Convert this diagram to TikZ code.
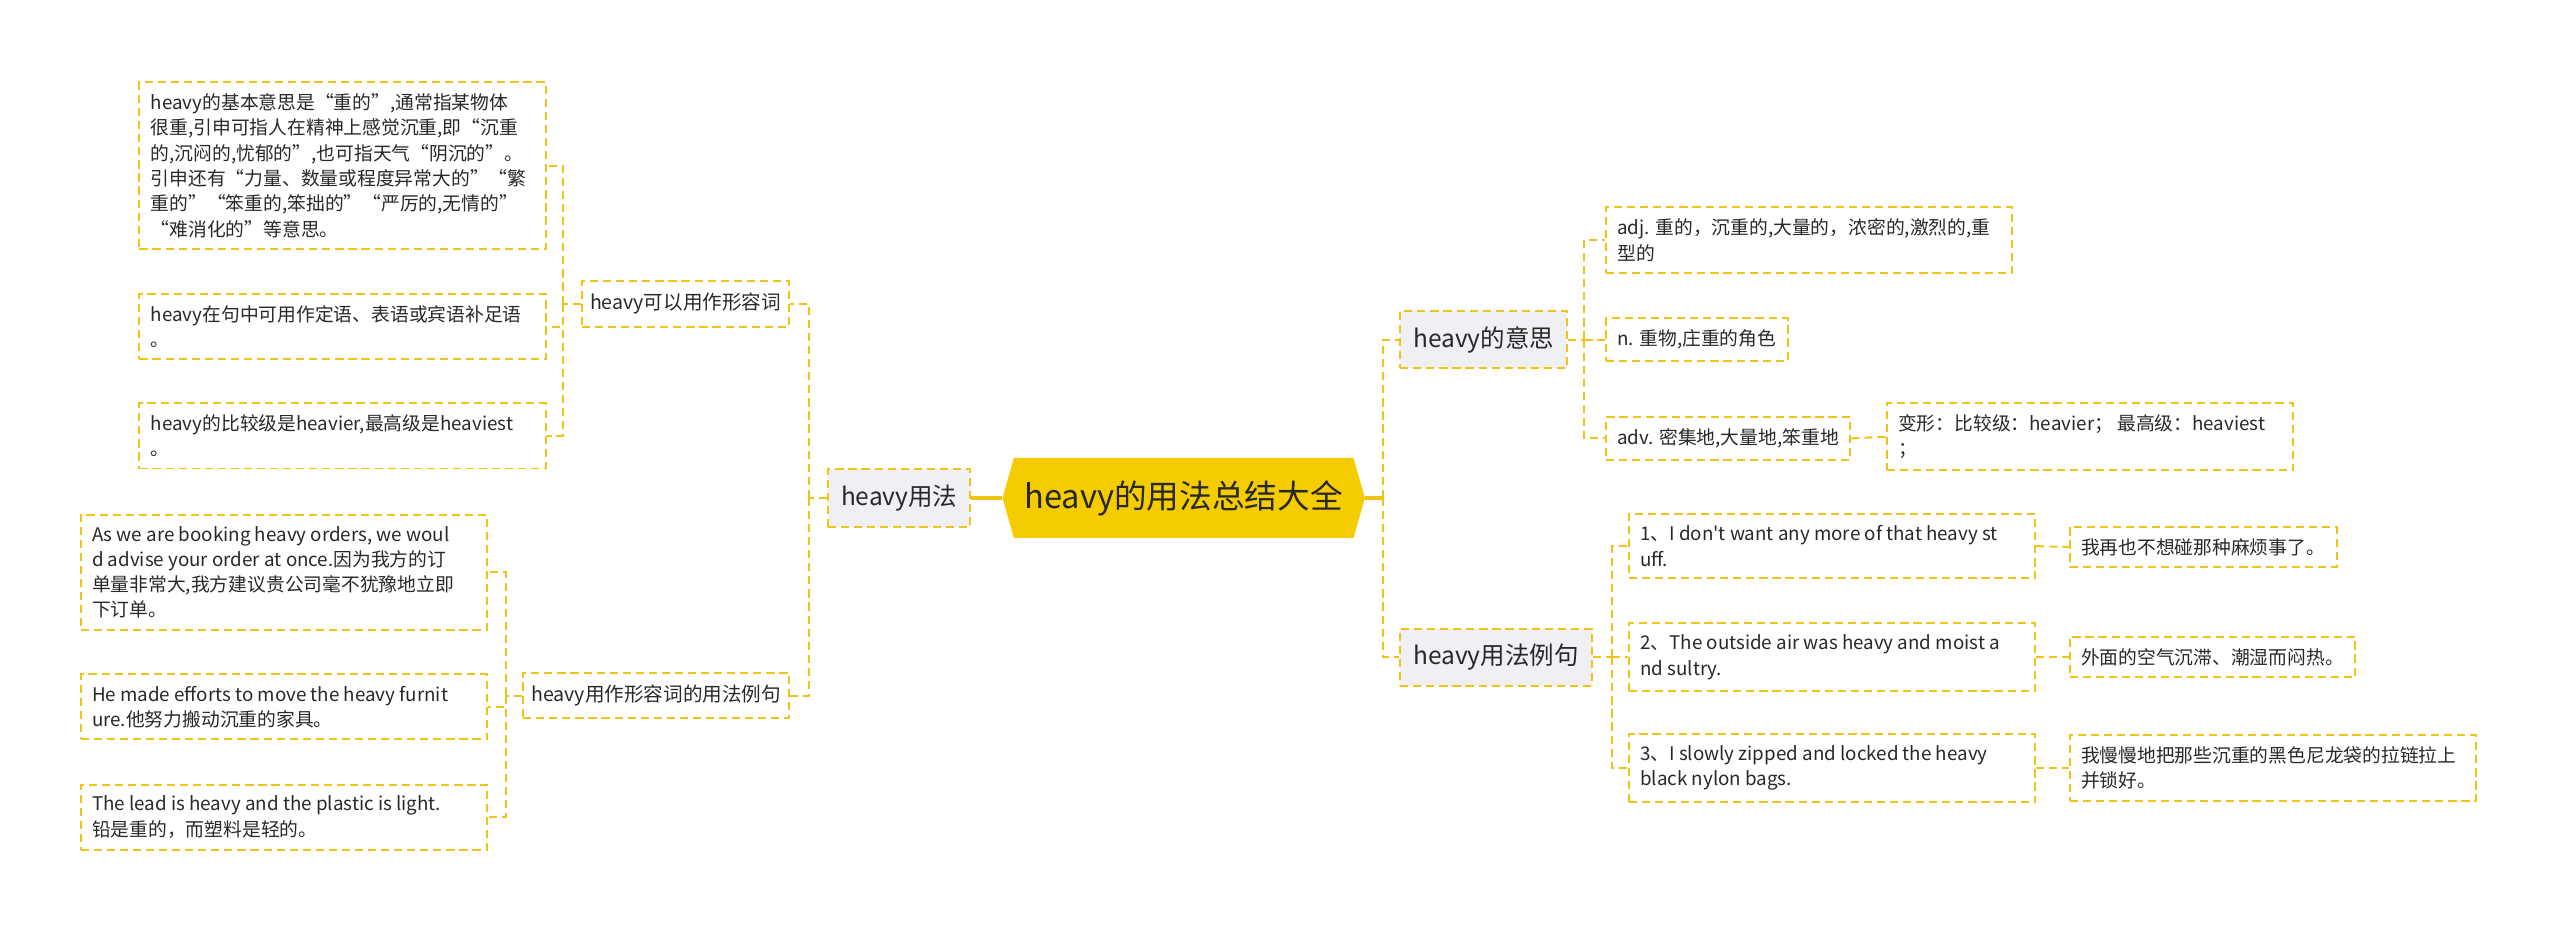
\documentclass[tikz,border=0pt]{standalone}
\usepackage{fontspec}
\setmainfont{Noto Sans CJK SC}[Ligatures=TeXOff]
\usetikzlibrary{shapes.symbols}
\definecolor{mmyellow}{RGB}{240,196,20}
\definecolor{mmroot}{RGB}{245,204,0}
\definecolor{mmgray}{RGB}{238,240,243}
\definecolor{mmtext}{RGB}{40,40,40}

\begin{document}
\begin{tikzpicture}[x=1pt,y=-1pt]
\tikzstyle{every node}=[text=mmtext]
\tikzstyle{root}=[signal, signal to=west and east, signal pointer angle=148, fill=mmroot, minimum width=222pt, minimum height=49pt, inner sep=0pt, font=\fontsize{20}{24}\selectfont]
\tikzstyle{box}=[draw=mmyellow, line width=1.2pt, dash pattern=on 5pt off 3pt, inner xsep=7pt, inner ysep=7pt, align=left]
\tikzstyle{topic}=[box, fill=mmgray, minimum height=35pt, inner xsep=8pt, font=\fontsize{15}{18}\selectfont]
\tikzstyle{subtopic}=[box, minimum height=28pt, inner xsep=5pt, font=\fontsize{12}{15}\selectfont]
\tikzstyle{leaf}=[box, font=\fontsize{11.5}{15.5}\selectfont]
\tikzstyle{wide}=[leaf, text width=235pt, align=flush left]
\tikzstyle{link}=[draw=mmyellow, line width=1.2pt, dash pattern=on 5pt off 3pt]
\tikzstyle{rootlink}=[draw=mmyellow, line width=2pt]

\useasboundingbox (0,0) rectangle (1568,573);

\node[root] (root) at (725,305) {heavy的用法总结大全};

\node[topic, anchor=east] (usage) at (595,305) {heavy用法};
\node[subtopic, anchor=east] (adjuse) at (484,186) {heavy可以用作形容词};
\node[subtopic, anchor=east] (exuse) at (484,426) {heavy用作形容词的用法例句};

\node[wide, anchor=east] (basic) at (335,101.5) {heavy的基本意思是“重的”,通常指某物体\\很重,引申可指人在精神上感觉沉重,即“沉重\\的,沉闷的,忧郁的”,也可指天气“阴沉的”。\\引申还有“力量、数量或程度异常大的”“繁\\重的”“笨重的,笨拙的”“严厉的,无情的”\\“难消化的”等意思。};
\node[wide, anchor=east] (position) at (335,200) {heavy在句中可用作定语、表语或宾语补足语\\。};
\node[wide, anchor=east] (compare) at (335,267) {heavy的比较级是heavier,最高级是heaviest\\。};
\node[wide, anchor=east] (orders) at (299,350.5) {As we are booking heavy orders, we woul\\d advise your order at once.因为我方的订\\单量非常大,我方建议贵公司毫不犹豫地立即\\下订单。};
\node[wide, anchor=east] (furniture) at (299,433) {He made efforts to move the heavy furnit\\ure.他努力搬动沉重的家具。};
\node[wide, anchor=east] (lead) at (299,500.5) {The lead is heavy and the plastic is light.\\铅是重的，而塑料是轻的。};

\node[topic, anchor=west] (meaning) at (857,208) {heavy的意思};
\node[topic, anchor=west] (examples) at (857,402.5) {heavy用法例句};

\node[wide, anchor=west] (adj) at (983,147) {adj. 重的，沉重的,大量的，浓密的,激烈的,重\\型的};
\node[leaf, anchor=west] (noun) at (983,208) {n. 重物,庄重的角色};
\node[leaf, anchor=west] (adv) at (983,268.5) {adv. 密集地,大量地,笨重地};
\node[wide, anchor=west] (forms) at (1155,267.5) {变形：比较级：heavier； 最高级：heaviest\\；};

\node[wide, anchor=west] (ex1) at (997,334.5) {1、I don't want any more of that heavy st\\uff.};
\node[wide, anchor=west] (ex2) at (997,402.5) {2、The outside air was heavy and moist a\\nd sultry.};
\node[wide, anchor=west] (ex3) at (997,470.5) {3、I slowly zipped and locked the heavy\\black nylon bags.};
\node[leaf, anchor=west] (tr1) at (1267,335) {我再也不想碰那种麻烦事了。};
\node[leaf, anchor=west] (tr2) at (1267,402.5) {外面的空气沉滞、潮湿而闷热。};
\node[wide, anchor=west] (tr3) at (1267,470.5) {我慢慢地把那些沉重的黑色尼龙袋的拉链拉上\\并锁好。};

\draw[rootlink] (root.west) -- (usage.east);
\draw[rootlink] (root.east) -- ++(11,0) coordinate (rj);
\draw[link] (rj) |- (meaning.west);
\draw[link] (rj) |- (examples.west);

\draw[link] (usage.west) -- ++(-11,0) coordinate (uj);
\draw[link] (uj) |- (adjuse.east);
\draw[link] (uj) |- (exuse.east);

\draw[link] (adjuse.west) -- ++(-11,0) coordinate (aj);
\foreach \n in {basic,position,compare}
  \draw[link] (aj) |- (\n.east);
\draw[link] (exuse.west) -- ++(-10,0) coordinate (ej);
\foreach \n in {orders,furniture,lead}
  \draw[link] (ej) |- (\n.east);

\draw[link] (meaning.east) -- ++(10,0) coordinate (mj);
\foreach \n in {adj,noun,adv}
  \draw[link] (mj) |- (\n.west);
\draw[link] (adv.east) -- (forms.west);

\draw[link] (examples.east) -- ++(12,0) coordinate (xj);
\foreach \n in {1,2,3} {
  \draw[link] (xj) |- (ex\n.west);
  \draw[link] (ex\n.east) -- (tr\n.west);
}
\end{tikzpicture}
\end{document}
